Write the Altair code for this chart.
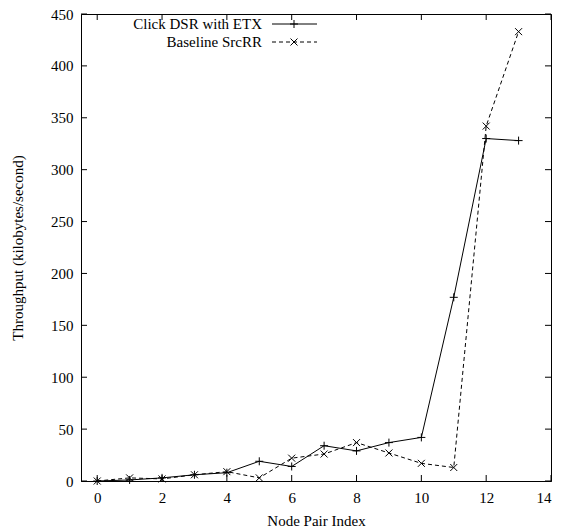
import altair as alt
import pandas as pd

x_idx = list(range(14))
dsr_etx = [0, 1, 3, 6, 8, 19, 14, 34, 29, 37, 42, 177, 330, 328]
srcrr = [0, 3, 2, 6, 9, 3, 22, 26, 37, 27, 17, 13, 342, 433]
series_names = ["Click DSR with ETX", "Baseline SrcRR"]
x_ticks = [0, 2, 4, 6, 8, 10, 12, 14]
y_ticks = [0, 50, 100, 150, 200, 250, 300, 350, 400, 450]

W, H = 470, 467
FONT = "Liberation Serif"
FS = 15

df = pd.DataFrame({
    "x": x_idx * 2,
    "y": dsr_etx + srcrr,
    "s": [series_names[0]] * 14 + [series_names[1]] * 14,
})

xs = alt.Scale(domain=[-0.5, 14], nice=False, zero=False)
ys = alt.Scale(domain=[0, 450], nice=False)

PLUS = "M-1,0L1,0M0,-1L0,1"
CROSS = "M-1,-1L1,1M-1,1L1,-1"

base = alt.Chart(df)

line1 = base.transform_filter(alt.datum.s == series_names[0]).mark_line(
    color="black", strokeWidth=1).encode(
    x=alt.X("x:Q", scale=xs, axis=alt.Axis(values=x_ticks, title="Node Pair Index",
                                           tickSize=0, labelPadding=9, titlePadding=8,
                                           grid=False)),
    y=alt.Y("y:Q", scale=ys, axis=alt.Axis(values=y_ticks,
                                           title="Throughput (kilobytes/second)",
                                           tickSize=0, labelPadding=8, titlePadding=25,
                                           grid=False)),
)
pts1 = base.transform_filter(alt.datum.s == series_names[0]).mark_point(
    shape=PLUS, size=64, filled=False, color="black", strokeWidth=1, opacity=1).encode(
    x=alt.X("x:Q", scale=xs), y=alt.Y("y:Q", scale=ys))
line2 = base.transform_filter(alt.datum.s == series_names[1]).mark_line(
    color="black", strokeWidth=1, strokeDash=[4, 3]).encode(
    x=alt.X("x:Q", scale=xs), y=alt.Y("y:Q", scale=ys))
pts2 = base.transform_filter(alt.datum.s == series_names[1]).mark_point(
    shape=CROSS, size=49, filled=False, color="black", strokeWidth=1, opacity=1).encode(
    x=alt.X("x:Q", scale=xs), y=alt.Y("y:Q", scale=ys))

# inward ticks (bottom/top and left/right)
xt = pd.DataFrame({"v": x_ticks})
yt = pd.DataFrame({"v": y_ticks})
tb = alt.Chart(xt).mark_rule(color="black", strokeWidth=1).encode(
    x=alt.X("v:Q", scale=xs), y=alt.value(H), y2=alt.value(H - 6))
tt = alt.Chart(xt).mark_rule(color="black", strokeWidth=1).encode(
    x=alt.X("v:Q", scale=xs), y=alt.value(0), y2=alt.value(6))
tl = alt.Chart(yt).mark_rule(color="black", strokeWidth=1).encode(
    y=alt.Y("v:Q", scale=ys), x=alt.value(0), x2=alt.value(6))
tr = alt.Chart(yt).mark_rule(color="black", strokeWidth=1).encode(
    y=alt.Y("v:Q", scale=ys), x=alt.value(W), x2=alt.value(W - 6))

# legend
leg = pd.DataFrame({"s": series_names})
LY1, LY2 = 10, 28
lt1 = alt.Chart(leg).transform_filter(alt.datum.s == series_names[0]).mark_text(
    align="right", baseline="middle", font=FONT, fontSize=FS, color="black").encode(
    text="s:N", x=alt.value(181), y=alt.value(LY1))
lt2 = alt.Chart(leg).transform_filter(alt.datum.s == series_names[1]).mark_text(
    align="right", baseline="middle", font=FONT, fontSize=FS, color="black").encode(
    text="s:N", x=alt.value(181), y=alt.value(LY2))
ll1 = alt.Chart(leg).transform_filter(alt.datum.s == series_names[0]).mark_rule(
    color="black", strokeWidth=1).encode(x=alt.value(191), x2=alt.value(236), y=alt.value(LY1))
ll2 = alt.Chart(leg).transform_filter(alt.datum.s == series_names[1]).mark_rule(
    color="black", strokeWidth=1, strokeDash=[4, 3]).encode(
    x=alt.value(191), x2=alt.value(236), y=alt.value(LY2))
lp1 = alt.Chart(leg).transform_filter(alt.datum.s == series_names[0]).mark_point(
    shape=PLUS, size=64, filled=False, color="black", strokeWidth=1, opacity=1).encode(
    x=alt.value(213), y=alt.value(LY1))
lp2 = alt.Chart(leg).transform_filter(alt.datum.s == series_names[1]).mark_point(
    shape=CROSS, size=49, filled=False, color="black", strokeWidth=1, opacity=1).encode(
    x=alt.value(213), y=alt.value(LY2))

chart = alt.layer(line1, line2, pts1, pts2, tb, tt, tl, tr,
                  lt1, lt2, ll1, ll2, lp1, lp2).properties(
    width=W, height=H,
    autosize=alt.AutoSizeParams(type="none"),
    padding={"left": 73, "top": 6, "right": 2, "bottom": 50},
    background="white",
).configure_view(stroke="black", strokeWidth=1).configure_axis(
    domainColor="black", domainWidth=1, labelFont=FONT, titleFont=FONT,
    labelFontSize=FS, titleFontSize=FS, labelColor="black", titleColor="black",
    titleFontWeight="normal",
)

chart.save("out.html", embed_options={"renderer": "svg", "actions": False})
